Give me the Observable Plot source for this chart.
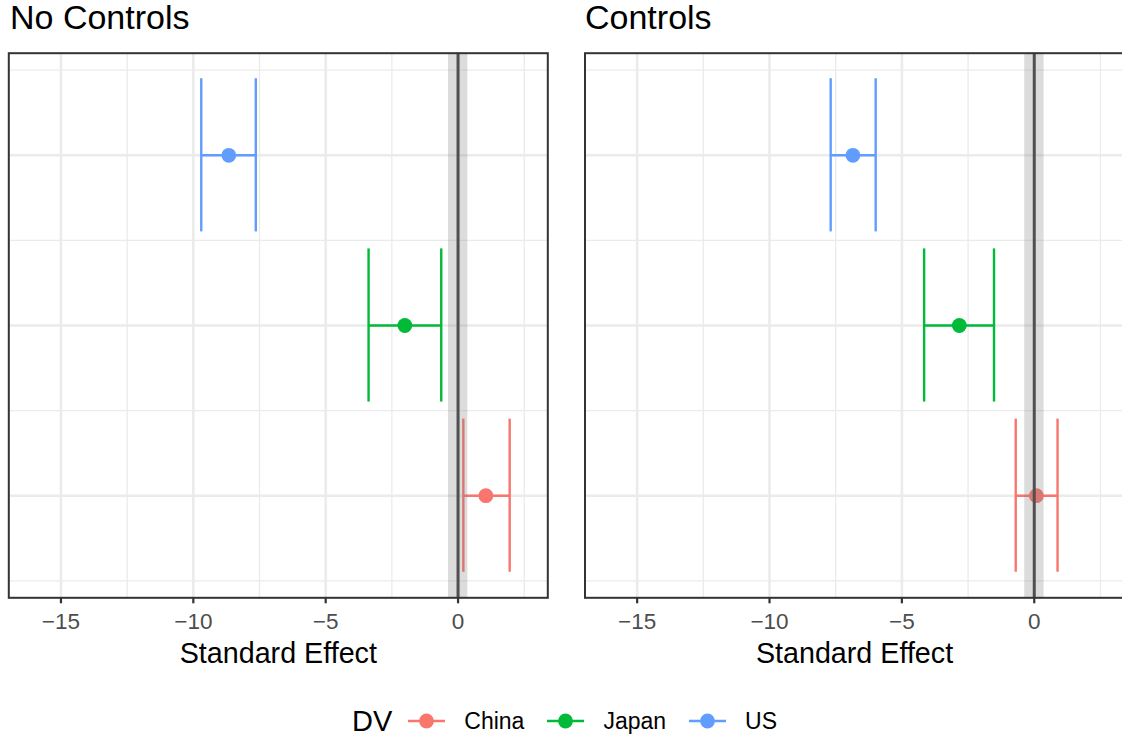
<!DOCTYPE html>
<html>
<head>
<meta charset="utf-8">
<script src="https://cdn.jsdelivr.net/npm/d3@7"></script>
<script src="https://cdn.jsdelivr.net/npm/@observablehq/plot@0.6"></script>
<style>
  html, body { margin: 0; padding: 0; background: #fff; overflow: hidden; width: 1122px; height: 740px; }
  body { position: relative; font-family: "Liberation Sans", Arial, Helvetica, sans-serif; color: #000; }
  .title { position: absolute; top: 0; font-size: 34px; line-height: 1; white-space: nowrap; }
  .panel { position: absolute; top: 40px; width: 560px; height: 637px; }
  .panel svg { max-width: none !important; width: 560px !important; height: 637px !important; display: block; }
  #legend { position: absolute; left: 352px; top: 703px; height: 36px; display: flex; align-items: center; white-space: nowrap; }
  #legend .ltitle { font-size: 29px; margin-right: 16px; }
  #legend .lkey { display: block; margin-right: 19px; }
  #legend .llab { font-size: 23px; margin-right: 23px; }
</style>
</head>
<body>
<div class="title" style="left:10px">No Controls</div>
<div class="title" style="left:585px">Controls</div>
<div id="p1" class="panel" style="left:0px"></div>
<div id="p2" class="panel" style="left:576px"></div>
<div id="legend"></div>
<script>
// ---- data ----
const countries = ["China", "Japan", "US"];
const colors = ["#F8766D", "#00BA38", "#619CFF"];
const legendTitle = "DV";
const axisTitle = "Standard Effect";

const estNoCtrl  = [1.05, -2.01, -8.66];
const lowNoCtrl  = [0.20, -3.38, -9.70];
const highNoCtrl = [1.95, -0.635, -7.64];

const estCtrl  = [0.08, -2.83, -6.85];
const lowCtrl  = [-0.70, -4.16, -7.69];
const highCtrl = [0.88, -1.52, -5.99];

const xTicks = [-15, -10, -5, 0];
const xMinor = [-12.5, -7.5, -2.5, 2.5];
const yMajor = [1, 2, 3];
const yMinor = [0.5, 1.5, 2.5, 3.5];
const zeroBand = [-0.36, 0.37];
const xDomain = [-16.97, 3.39];
const yDomain = [0.4, 3.6];

const FONT = '"Liberation Sans", Arial, Helvetica, sans-serif';
const CAP = 0.45;
const LW = 2.4;

function rowsOf(est, low, high) {
  return countries.map((c, i) => ({country: c, y: i + 1, est: est[i], low: low[i], high: high[i]}));
}

function panel(rows, ml) {
  const panelW = 539;
  return Plot.plot({
    width: 560, height: 637,
    marginLeft: ml, marginRight: 560 - ml - panelW,
    marginTop: 12.7, marginBottom: 79.7,
    x: {domain: xDomain, axis: null},
    y: {domain: yDomain, axis: null},
    color: {domain: countries, range: colors},
    style: {fontFamily: FONT, background: "transparent", overflow: "visible"},
    marks: [
      Plot.ruleX(xMinor, {stroke: "#EBEBEB", strokeWidth: 1.3}),
      Plot.ruleY(yMinor, {stroke: "#EBEBEB", strokeWidth: 1.3}),
      Plot.ruleX(xTicks, {stroke: "#EBEBEB", strokeWidth: 2.6}),
      Plot.ruleY(yMajor, {stroke: "#EBEBEB", strokeWidth: 2.6}),
      Plot.ruleY(rows, {y: "y", x1: "low", x2: "high", stroke: "country", strokeWidth: LW}),
      Plot.ruleX(rows, {x: "low", y1: d => d.y - CAP, y2: d => d.y + CAP, stroke: "country", strokeWidth: LW}),
      Plot.ruleX(rows, {x: "high", y1: d => d.y - CAP, y2: d => d.y + CAP, stroke: "country", strokeWidth: LW}),
      Plot.dot(rows, {x: "est", y: "y", fill: "country", r: 7.4}),
      Plot.rect([zeroBand], {x1: d => d[0], x2: d => d[1], fill: "#7F7F7F", fillOpacity: 0.27}),
      Plot.ruleX([0], {stroke: "#505050", strokeWidth: 3}),
      Plot.frame({stroke: "#333333", strokeWidth: 2}),
      Plot.axisX({ticks: xTicks, tickSize: 6, tickPadding: 9.5, fontSize: 22.5,
                  fill: "#4D4D4D", stroke: "#333333", strokeWidth: 2.2, label: null}),
      Plot.text([axisTitle], {frameAnchor: "bottom", lineAnchor: "bottom", dy: 64.7,
                  fontSize: 28.7, fill: "#000"})
    ]
  });
}

document.getElementById("p1").appendChild(panel(rowsOf(estNoCtrl, lowNoCtrl, highNoCtrl), 8.3));
document.getElementById("p2").appendChild(panel(rowsOf(estCtrl, lowCtrl, highCtrl), 8.5));

// ---- legend ----
const legend = document.getElementById("legend");
const lt = document.createElement("span");
lt.className = "ltitle"; lt.textContent = legendTitle;
legend.appendChild(lt);
countries.forEach((c, i) => {
  const ns = "http://www.w3.org/2000/svg";
  const svg = document.createElementNS(ns, "svg");
  svg.setAttribute("width", 37); svg.setAttribute("height", 20);
  svg.setAttribute("class", "lkey");
  const line = document.createElementNS(ns, "line");
  line.setAttribute("x1", 0); line.setAttribute("x2", 37);
  line.setAttribute("y1", 10); line.setAttribute("y2", 10);
  line.setAttribute("stroke", colors[i]); line.setAttribute("stroke-width", LW);
  const dot = document.createElementNS(ns, "circle");
  dot.setAttribute("cx", 18.5); dot.setAttribute("cy", 10); dot.setAttribute("r", 7.4);
  dot.setAttribute("fill", colors[i]);
  svg.appendChild(line); svg.appendChild(dot);
  legend.appendChild(svg);
  const lab = document.createElement("span");
  lab.className = "llab"; lab.textContent = c;
  legend.appendChild(lab);
});
</script>
</body>
</html>
